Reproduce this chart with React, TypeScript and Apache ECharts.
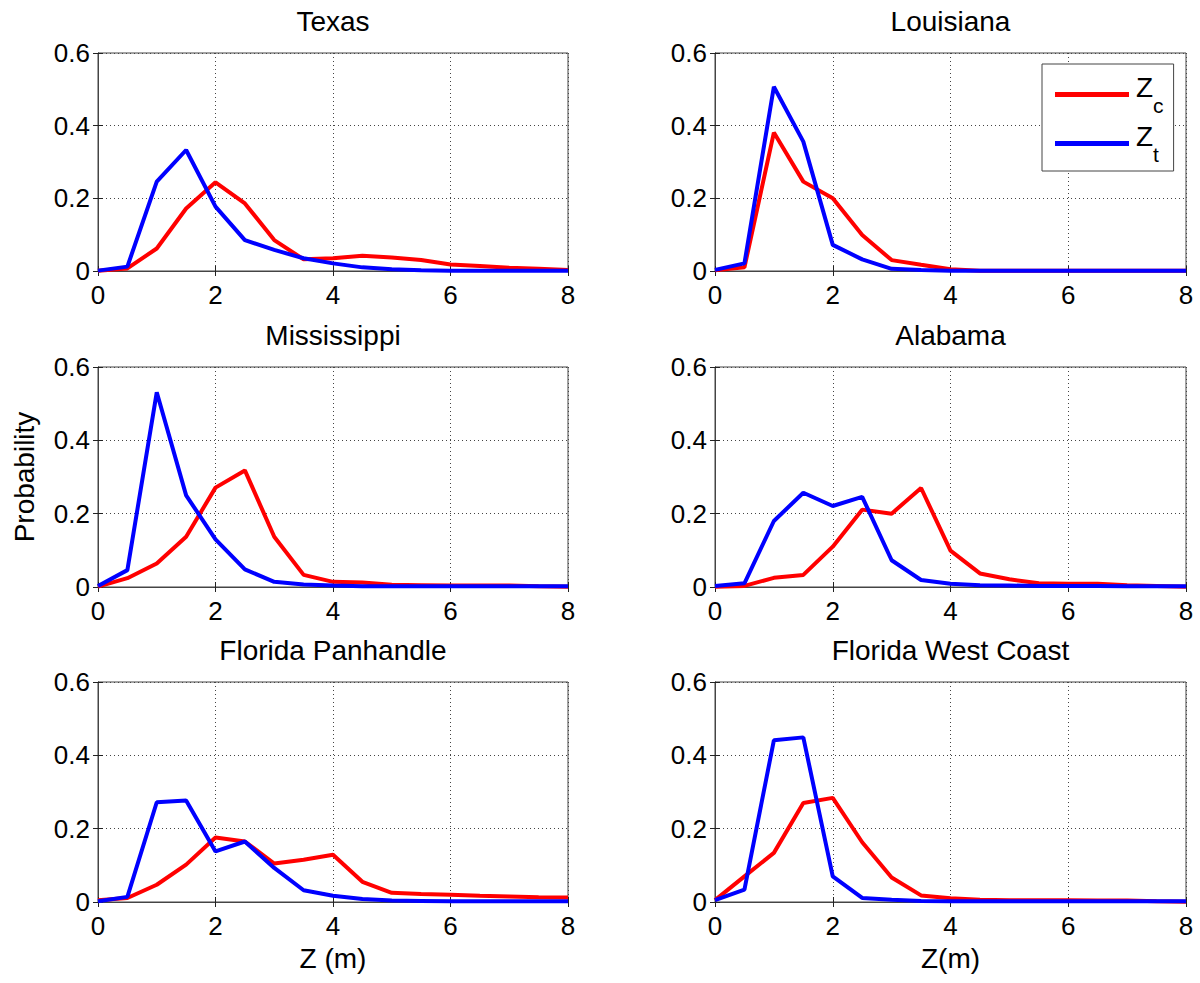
import React, { useEffect, useRef } from "react";
import * as echarts from "echarts";

const zValues = [0, 0.5, 1, 1.5, 2, 2.5, 3, 3.5, 4, 4.5, 5, 5.5, 6, 6.5, 7, 7.5, 8];
const xTicks = [0, 2, 4, 6, 8];
const yTicks = [0, 0.2, 0.4, 0.6];

const texasZc = [0.001, 0.007, 0.062, 0.172, 0.244, 0.186, 0.085, 0.032, 0.035, 0.042, 0.037, 0.03, 0.018, 0.014, 0.009, 0.006, 0.003];
const texasZt = [0.001, 0.012, 0.246, 0.333, 0.177, 0.085, 0.058, 0.035, 0.021, 0.01, 0.005, 0.002, 0.001, 0.001, 0.001, 0.001, 0.001];
const louisianaZc = [0.002, 0.01, 0.381, 0.246, 0.2, 0.099, 0.03, 0.017, 0.005, 0.001, 0.001, 0.001, 0.001, 0.001, 0.001, 0.001, 0.001];
const louisianaZt = [0.003, 0.021, 0.507, 0.356, 0.072, 0.032, 0.006, 0.003, 0.001, 0.001, 0.001, 0.001, 0.001, 0.001, 0.001, 0.001, 0.001];
const mississippiZc = [0.001, 0.024, 0.064, 0.137, 0.271, 0.318, 0.137, 0.033, 0.014, 0.012, 0.006, 0.005, 0.004, 0.004, 0.004, 0.002, 0.001];
const mississippiZt = [0.003, 0.046, 0.531, 0.25, 0.13, 0.048, 0.014, 0.007, 0.004, 0.002, 0.002, 0.002, 0.002, 0.002, 0.002, 0.002, 0.002];
const alabamaZc = [0.001, 0.003, 0.025, 0.033, 0.11, 0.211, 0.2, 0.27, 0.099, 0.037, 0.021, 0.01, 0.009, 0.009, 0.005, 0.003, 0.001];
const alabamaZt = [0.003, 0.01, 0.18, 0.257, 0.221, 0.246, 0.073, 0.019, 0.009, 0.005, 0.004, 0.003, 0.003, 0.003, 0.002, 0.002, 0.002];
const panhandleZc = [0.005, 0.011, 0.047, 0.102, 0.176, 0.165, 0.105, 0.115, 0.129, 0.055, 0.025, 0.022, 0.02, 0.017, 0.015, 0.013, 0.012];
const panhandleZt = [0.002, 0.014, 0.272, 0.277, 0.138, 0.165, 0.093, 0.032, 0.017, 0.008, 0.004, 0.003, 0.002, 0.002, 0.002, 0.002, 0.002];
const westCoastZc = [0.005, 0.07, 0.134, 0.27, 0.284, 0.163, 0.067, 0.018, 0.01, 0.006, 0.005, 0.005, 0.005, 0.004, 0.004, 0.002, 0.001];
const westCoastZt = [0.005, 0.034, 0.441, 0.449, 0.07, 0.011, 0.006, 0.003, 0.002, 0.002, 0.002, 0.002, 0.002, 0.002, 0.002, 0.002, 0.002];

const panelTitles = ["Texas", "Louisiana", "Mississippi", "Alabama", "Florida Panhandle", "Florida West Coast"];
const zcSeries = [texasZc, louisianaZc, mississippiZc, alabamaZc, panhandleZc, westCoastZc];
const ztSeries = [texasZt, louisianaZt, mississippiZt, alabamaZt, panhandleZt, westCoastZt];
const xAxisNames = ["", "", "", "", "Z (m)", "Z(m)"];
const yAxisNames = ["", "", "Probability", "", "", ""];

const FONT = "'Liberation Sans', Arial, Helvetica, sans-serif";

function buildOption() {
  const lefts = [98, 715];
  const widths = [470, 471];
  const tops = [53, 367, 682];
  const heights = [218, 220, 220];
  const grid: any[] = [];
  const xAxis: any[] = [];
  const yAxis: any[] = [];
  const series: any[] = [];
  const title: any[] = [];
  const tickStyle = { show: true, inside: true, length: 5, lineStyle: { color: "#222", width: 1 } };
  const lineStyle = { show: true, lineStyle: { color: "#444", width: 1 } };
  const split = { show: true, lineStyle: { color: "#444", width: 1, type: [1, 3] } };
  for (let i = 0; i < 6; i++) {
    const col = i % 2;
    const row = Math.floor(i / 2);
    grid.push({
      left: lefts[col], top: tops[row], width: widths[col], height: heights[row],
      show: true, borderColor: "#444", borderWidth: 1, backgroundColor: "#fff",
    });
    title.push({
      text: panelTitles[i],
      left: lefts[col] + widths[col] / 2,
      top: tops[row] - 46,
      textAlign: "center",
      padding: 0,
      textStyle: { fontFamily: FONT, fontSize: 28, fontWeight: "normal", color: "#000" },
    });
    xAxis.push({
      gridIndex: i, type: "value", min: xTicks[0], max: xTicks[xTicks.length - 1], interval: 2,
      position: "bottom",
      axisLine: lineStyle, axisTick: tickStyle, splitLine: split,
      axisLabel: { fontFamily: FONT, fontSize: 26, color: "#000", margin: 11 },
      name: xAxisNames[i], nameLocation: "middle", nameGap: 42,
      nameTextStyle: { fontFamily: FONT, fontSize: 28, color: "#000" },
    });
    xAxis.push({
      gridIndex: i, type: "value", min: 0, max: 8, interval: 2, position: "top",
      axisLine: lineStyle, axisTick: tickStyle, splitLine: { show: false }, axisLabel: { show: false },
    });
    yAxis.push({
      gridIndex: i, type: "value", min: yTicks[0], max: yTicks[yTicks.length - 1], interval: 0.2,
      position: "left",
      axisLine: lineStyle, axisTick: tickStyle, splitLine: split,
      axisLabel: {
        fontFamily: FONT, fontSize: 26, color: "#000", margin: 8,
        formatter: (v: number) => (v === 0 ? "0" : v.toFixed(1)),
      },
      name: yAxisNames[i], nameLocation: "middle", nameGap: 60,
      nameTextStyle: { fontFamily: FONT, fontSize: 28, color: "#000" },
    });
    yAxis.push({
      gridIndex: i, type: "value", min: 0, max: 0.6, interval: 0.2, position: "right",
      axisLine: lineStyle, axisTick: tickStyle, splitLine: { show: false }, axisLabel: { show: false },
    });
    series.push({
      name: "Zc", type: "line", xAxisIndex: 2 * i, yAxisIndex: 2 * i,
      data: zValues.map((z, k) => [z, zcSeries[i][k]]),
      symbol: "none", lineStyle: { color: "#ff0000", width: 4 }, itemStyle: { color: "#ff0000" },
    });
    series.push({
      name: "Zt", type: "line", xAxisIndex: 2 * i, yAxisIndex: 2 * i,
      data: zValues.map((z, k) => [z, ztSeries[i][k]]),
      symbol: "none", lineStyle: { color: "#0000ff", width: 4 }, itemStyle: { color: "#0000ff" },
    });
  }
  return {
    animation: false,
    backgroundColor: "#fff",
    title,
    grid,
    xAxis,
    yAxis,
    series,
    legend: {
      data: ["Zc", "Zt"],
      orient: "vertical",
      left: 1042,
      top: 64,
      backgroundColor: "#fff",
      borderColor: "#444",
      borderWidth: 1,
      borderRadius: 0,
      padding: [3, 10, 6, 13],
      itemGap: 0,
      itemWidth: 74,
      itemHeight: 5,
      icon: "rect",
      selectedMode: false,
      formatter: (name: string) => `{z|Z}{s|${name === "Zc" ? "c" : "t"}}`,
      textStyle: {
        fontFamily: FONT,
        color: "#000",
        rich: {
          z: { fontFamily: FONT, fontSize: 28, color: "#000", verticalAlign: "top", lineHeight: 43, padding: [0, 0, 0, 2] },
          s: { fontFamily: FONT, fontSize: 21, color: "#000", verticalAlign: "bottom", lineHeight: 21, padding: [28, 0, 0, 0] },
        },
      },
    },
  };
}

export default function App() {
  const ref = useRef<HTMLDivElement>(null);
  useEffect(() => {
    if (!ref.current) return;
    const chart = echarts.init(ref.current, undefined, { renderer: "svg" });
    chart.setOption(buildOption() as any);
    return () => chart.dispose();
  }, []);
  return (
    <div
      ref={ref}
      style={{ position: "absolute", left: 0, top: 0, width: 1200, height: 983, background: "#fff" }}
    />
  );
}
